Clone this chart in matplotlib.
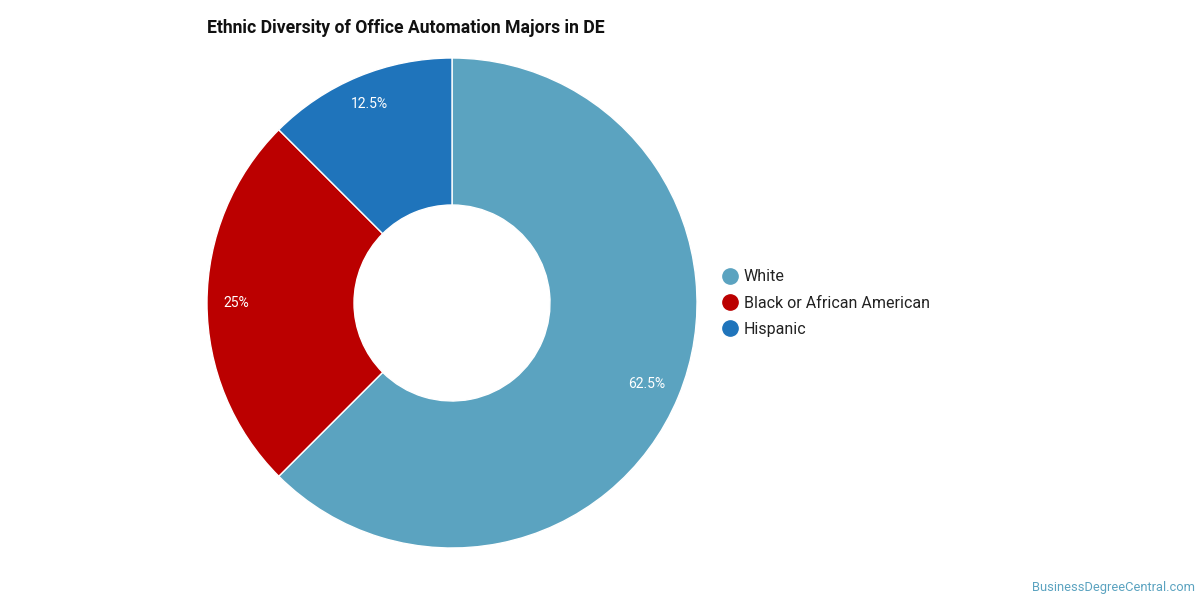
import matplotlib
matplotlib.use("Agg")
import matplotlib.pyplot as plt
from matplotlib.lines import Line2D
import numpy as np

plt.rcParams['font.family'] = ['Roboto', 'DejaVu Sans']

# data
labels = ["White", "Black or African American", "Hispanic"]
shares = [62.5, 25, 12.5]
pct_text = ["62.5%", "25%", "12.5%"]
colors = ["#5ba3c0", "#bb0000", "#1f74bb"]

fig = plt.figure(figsize=(12, 6), dpi=100)
# donut centre ~ (452, 303) px, outer radius ~245 px
ax = fig.add_axes([(452 - 245) / 1200, (600 - 548) / 600, 490 / 1200, 490 / 600])

wedges, _ = ax.pie(shares, colors=colors, startangle=90, counterclock=False,
                   radius=1.0,
                   wedgeprops=dict(width=0.6, edgecolor="white", linewidth=1))

for w, t, r in zip(wedges, pct_text, [0.86, 0.88, 0.88]):
    ang = np.deg2rad((w.theta1 + w.theta2) / 2)
    ax.text(r * np.cos(ang), r * np.sin(ang), t, ha="center", va="center",
            color="white", fontsize=10)
ax.set_xlim(-1, 1)
ax.set_ylim(-1, 1)
ax.set_aspect("equal")
ax.axis("off")

handles = [Line2D([0], [0], marker="o", linestyle="", markersize=11,
                  markerfacecolor=c, markeredgecolor=c) for c in colors]
fig.legend(handles, labels, loc="center left", bbox_to_anchor=(704 / 1200, 1 - 303 / 600),
           frameon=False, fontsize=11.5, handletextpad=0.1, labelspacing=0.7,
           handlelength=1.5, labelcolor="#222222")

fig.text(207 / 1200, 1 - 28 / 600, "Ethnic Diversity of Office Automation Majors in DE",
         fontsize=12.7, fontweight="bold", ha="left", va="center", color="#111111")
fig.text(1195 / 1200, 1 - 587 / 600, "BusinessDegreeCentral.com", fontsize=9.3,
         ha="right", va="center", color="#5ba3c0")

fig.savefig("out.png", dpi=100, facecolor="white")
